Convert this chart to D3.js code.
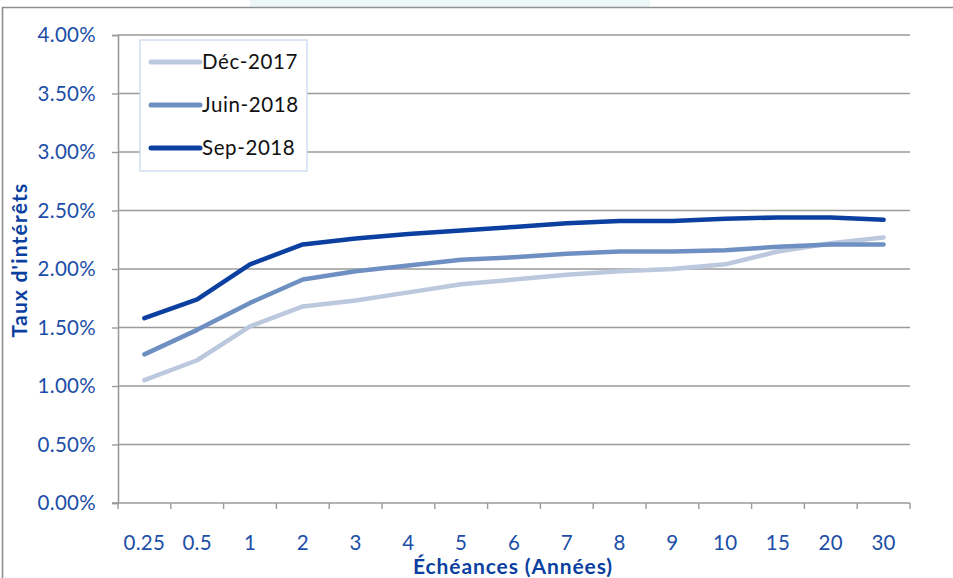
<!DOCTYPE html>
<html>
<head>
<meta charset="utf-8">
<script src="https://cdn.jsdelivr.net/npm/d3@7"></script>
<style>
  html, body { margin: 0; padding: 0; background: #fff; }
  #chart { width: 953px; height: 578px; }
</style>
</head>
<body>
<div id="chart"></div>
<script>
(function () {
  // -- Data -----------------------------------------------------------
  var maturities = ["0.25", "0.5", "1", "2", "3", "4", "5", "6", "7", "8", "9", "10", "15", "20", "30"];
  var dec2017  = [1.05, 1.22, 1.51, 1.68, 1.73, 1.80, 1.87, 1.91, 1.95, 1.98, 2.00, 2.04, 2.15, 2.22, 2.27];
  var juin2018 = [1.27, 1.48, 1.71, 1.91, 1.98, 2.03, 2.08, 2.10, 2.13, 2.15, 2.15, 2.16, 2.19, 2.21, 2.21];
  var sep2018  = [1.58, 1.74, 2.04, 2.21, 2.26, 2.30, 2.33, 2.36, 2.39, 2.41, 2.41, 2.43, 2.44, 2.44, 2.42];
  var seriesNames = ["Déc-2017", "Juin-2018", "Sep-2018"];
  var yTicks = [0, 0.5, 1, 1.5, 2, 2.5, 3, 3.5, 4];

  var COLORS = ["#bcc8de", "#6e8fc1", "#0b3fa0"];
  var TEXT_BLUE = "#1c4ea8";
  var GRID = "#9a9a9a";
  var FONT = "Lato, 'Open Sans', sans-serif";

  var series = [dec2017, juin2018, sep2018].map(function (vals, i) {
    return { name: seriesNames[i], color: COLORS[i], values: vals };
  });

  var W = 953, H = 578;
  var margin = { top: 35, right: 43, bottom: 75, left: 118 };
  var innerW = W - margin.left - margin.right;
  var innerH = H - margin.top - margin.bottom;

  var svg = d3.select("#chart").append("svg")
    .attr("width", W).attr("height", H)
    .style("font-family", FONT);

  // faint header decoration + outer frame
  svg.append("rect").attr("x", 250).attr("y", 0).attr("width", 400).attr("height", 7)
    .attr("fill", "#eef7f7");
  svg.append("path")
    .attr("d", "M2.5," + H + " V7.5 H" + W)
    .attr("fill", "none").attr("stroke", "#8f8f8f").attr("stroke-width", 1.6);

  var g = svg.append("g").attr("transform", "translate(" + margin.left + "," + margin.top + ")");

  var x = d3.scaleBand().domain(maturities).range([0, innerW]).padding(0);
  var y = d3.scaleLinear().domain([0, 4]).range([innerH, 0]);

  // gridlines
  g.append("g").selectAll("line").data(yTicks.slice(1)).join("line")
    .attr("x1", 0).attr("x2", innerW)
    .attr("y1", function (d) { return y(d); }).attr("y2", function (d) { return y(d); })
    .attr("stroke", GRID).attr("stroke-width", 1.4);

  // y axis
  var yAxis = g.append("g")
    .call(d3.axisLeft(y).tickValues(yTicks).tickSize(6).tickPadding(16)
      .tickFormat(function (d) { return d.toFixed(2) + "%"; }));
  yAxis.select(".domain").attr("stroke", GRID).attr("stroke-width", 1.6);
  yAxis.selectAll(".tick line").attr("stroke", GRID).attr("stroke-width", 1.4);
  yAxis.selectAll(".tick text").attr("fill", TEXT_BLUE)
    .style("font-size", "20.5px").style("font-family", FONT).style("letter-spacing", "0.3px");

  // x axis: ticks at category boundaries
  var xAxisG = g.append("g").attr("transform", "translate(0," + innerH + ")");
  xAxisG.append("line").attr("x1", -6).attr("x2", innerW).attr("y1", 0).attr("y2", 0)
    .attr("stroke", GRID).attr("stroke-width", 1.6);
  var bounds = maturities.map(function (m) { return x(m); }).concat([innerW]);
  xAxisG.selectAll("line.tk").data(bounds).join("line").attr("class", "tk")
    .attr("x1", function (d) { return d; }).attr("x2", function (d) { return d; })
    .attr("y1", 0).attr("y2", 6)
    .attr("stroke", GRID).attr("stroke-width", 1.4);
  xAxisG.selectAll("text").data(maturities).join("text")
    .attr("x", function (d) { return x(d) + x.bandwidth() / 2; })
    .attr("y", 47)
    .attr("text-anchor", "middle")
    .attr("fill", TEXT_BLUE)
    .style("font-size", "20.5px")
    .style("letter-spacing", "0.3px")
    .text(function (d) { return d; });

  // axis titles
  svg.append("text")
    .attr("x", 513).attr("y", 574)
    .attr("text-anchor", "middle")
    .attr("fill", "#0b3fa0")
    .style("font-size", "21px").style("font-weight", "700").style("letter-spacing", "0.9px")
    .text("Échéances (Années)");
  svg.append("text")
    .attr("transform", "translate(27,260) rotate(-90)")
    .attr("text-anchor", "middle")
    .attr("fill", "#0b3fa0")
    .style("font-size", "21px").style("font-weight", "700").style("letter-spacing", "1.2px")
    .text("Taux d'intérêts");

  // lines
  var line = d3.line()
    .x(function (d, i) { return x(maturities[i]) + x.bandwidth() / 2; })
    .y(function (d) { return y(d); });

  g.append("g").selectAll("path").data(series).join("path")
    .attr("d", function (s) { return line(s.values); })
    .attr("fill", "none")
    .attr("stroke", function (s) { return s.color; })
    .attr("stroke-width", 4.5)
    .attr("stroke-linejoin", "round")
    .attr("stroke-linecap", "round");

  // legend
  var leg = svg.append("g").attr("transform", "translate(140,40)");
  leg.append("rect").attr("x", 0).attr("y", 0).attr("width", 167).attr("height", 131)
    .attr("fill", "#fff").attr("stroke", "#c6d6ee").attr("stroke-width", 1.2);
  var item = leg.selectAll("g.item").data(series).join("g").attr("class", "item")
    .attr("transform", function (d, i) { return "translate(0," + (22 + i * 43) + ")"; });
  item.append("line").attr("x1", 11).attr("x2", 60).attr("y1", 0).attr("y2", 0)
    .attr("stroke", function (d) { return d.color; })
    .attr("stroke-width", 5).attr("stroke-linecap", "round");
  item.append("text").attr("x", 62).attr("y", 0).attr("dy", "0.35em")
    .attr("fill", "#111")
    .style("font-size", "20.5px")
    .style("letter-spacing", "0.6px")
    .text(function (d) { return d.name; });
})();
</script>
</body>
</html>
